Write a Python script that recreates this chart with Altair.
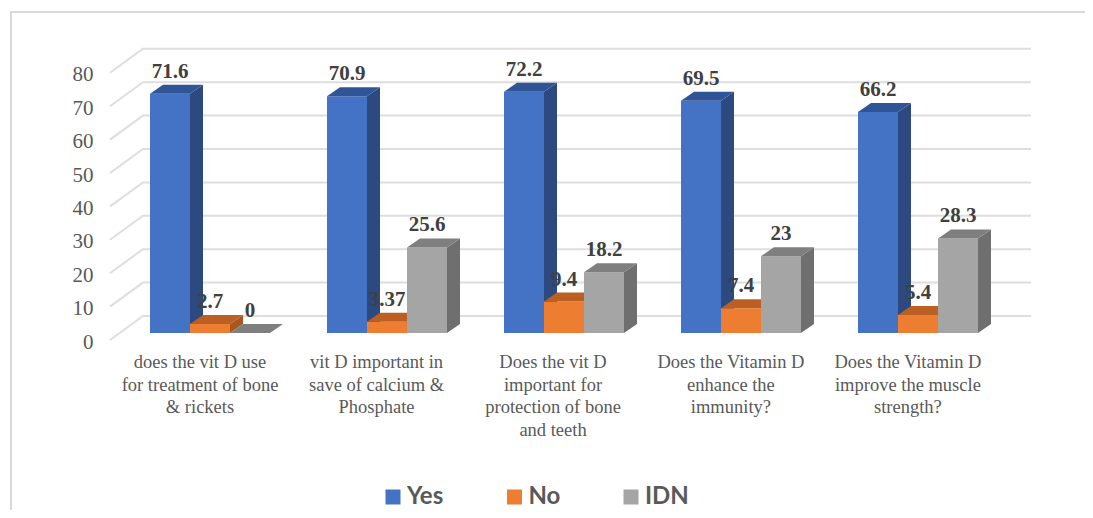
import altair as alt
import pandas as pd

question_labels = [
    "does the vit D use\nfor treatment of bone\n& rickets",
    "vit D important in\nsave of calcium &\nPhosphate",
    "Does the vit D\nimportant for\nprotection of bone\nand teeth",
    "Does the Vitamin D\nenhance the\nimmunity?",
    "Does the Vitamin D\nimprove the muscle\nstrength?",
]
question_label_pos = [0.2825, 1.28, 2.277, 3.282, 4.282]
series_names = ["Yes", "No", "IDN"]
yes_values = [71.6, 70.9, 72.2, 69.5, 66.2]
no_values = [2.7, 3.37, 9.4, 7.4, 5.4]
idn_values = [0, 25.6, 18.2, 23, 28.3]
front_colors = ["#4472C4", "#ED7D31", "#A5A5A5"]
side_colors = ["#2C4A80", "#A9571F", "#6F6F6F"]
top_colors = ["#2F5597", "#BC5F22", "#7F7F7F"]
y_ticks = [0, 10, 20, 30, 40, 50, 60, 70, 80]

# Layout constants, in scale units (1 x unit = one category, 1 y unit = one percent)
W, H = 1077, 502
PX_X, PX_Y = 177.0, 3.34
X0_PX, Y0_PX = 142.0, 332.0
BAR_W = 40 / PX_X
DX, DY = 13 / PX_X, 9 / PX_Y
BASE = 7 / PX_Y
WALL_X_FRONT = -40 / PX_X
WALL_X_BACK = -7 / PX_X
WALL_X_END = 881 / PX_X
WALL_DY = 24 / PX_Y

x_scale = alt.Scale(domain=[-X0_PX / PX_X, (W - X0_PX) / PX_X], range=[0, W], nice=False, zero=False)
y_scale = alt.Scale(domain=[(Y0_PX - H) / PX_Y, Y0_PX / PX_Y], range=[H, 0], nice=False, zero=False)
y_axis = alt.Axis(
    values=y_ticks, domain=False, ticks=False, grid=False, offset=-85, labelPadding=0, labelOffset=2,
    labelFont="Liberation Serif", labelFontSize=21, labelColor="#595959", labelOverlap=False,
)


def X(f):
    return alt.X(f"{f}:Q", scale=x_scale, axis=None, title=None)


def Y(f):
    return alt.Y(f"{f}:Q", scale=y_scale, axis=y_axis, title=None)


# gridlines: one polyline per tick, up the side wall and along the back wall
grid_rows = []
for t in y_ticks:
    grid_rows += [
        {"tick": t, "o": 0, "x": WALL_X_FRONT, "y": t},
        {"tick": t, "o": 1, "x": WALL_X_BACK, "y": t + WALL_DY},
        {"tick": t, "o": 2, "x": WALL_X_END, "y": t + WALL_DY},
    ]
grid = alt.Chart(pd.DataFrame(grid_rows)).mark_line(color="#DEDEDE", strokeWidth=2).encode(
    x=X("x"), y=Y("y"), detail="tick:N", order="o:Q",
)

frame_top = alt.Chart(pd.DataFrame({"a": [0]})).mark_rule(color="#D9D9D9", strokeWidth=2).encode(
    x=alt.value(2), x2=alt.value(W), y=alt.value(4)
)
frame_left = alt.Chart(pd.DataFrame({"a": [0]})).mark_rule(color="#D9D9D9", strokeWidth=2).encode(
    x=alt.value(3), y=alt.value(4), y2=alt.value(H)
)

layers = [frame_top, frame_left, grid]
label_rows = []
for s, (name, vals) in enumerate(zip(series_names, [yes_values, no_values, idn_values])):
    front, side, top = [], [], []
    for i, v in enumerate(vals):
        xl = i + s * BAR_W
        xr = xl + BAR_W
        front.append({"series": name, "x": xl, "x2": xr, "y": BASE, "y2": BASE + v})
        side += [
            {"b": i, "x": xr, "y": BASE, "y2": BASE + v},
            {"b": i, "x": xr + DX, "y": BASE + DY, "y2": BASE + v + DY},
        ]
        top += [
            {"b": i, "y": BASE + v, "x": xl, "x2": xr},
            {"b": i, "y": BASE + v + DY, "x": xl + DX, "x2": xr + DX},
        ]
        label_rows.append({"x": xl + BAR_W / 2, "y": BASE + v, "t": f"{v:g}"})
    layers.append(
        alt.Chart(pd.DataFrame(front)).mark_rect().encode(
            x=X("x"), x2="x2:Q", y=Y("y"), y2="y2:Q",
            color=alt.Color(
                "series:N",
                scale=alt.Scale(domain=series_names, range=front_colors),
                legend=alt.Legend(
                    title=None, orient="none", legendX=373, legendY=477, direction="horizontal",
                    symbolType="square", symbolSize=225, symbolStrokeWidth=0, symbolOpacity=1,
                    labelFont="Lato", labelFontSize=24, labelFontWeight="bold", labelColor="#595959",
                    columnPadding=58.5, labelOffset=2,
                ),
            ),
        )
    )
    layers.append(
        alt.Chart(pd.DataFrame(side)).mark_area(color=side_colors[s], opacity=1).encode(
            x=X("x"), y=Y("y"), y2="y2:Q", detail="b:N"
        )
    )
    layers.append(
        alt.Chart(pd.DataFrame(top)).mark_area(color=top_colors[s], orient="horizontal", opacity=1).encode(
            y=Y("y"), x=X("x"), x2="x2:Q", detail="b:N"
        )
    )

value_labels = alt.Chart(pd.DataFrame(label_rows)).mark_text(
    font="Liberation Serif", fontSize=21, fontWeight="bold", color="#404040", dy=-22, baseline="middle"
).encode(x=X("x"), y=Y("y"), text="t:N")

cat_df = pd.DataFrame({"x": question_label_pos, "t": question_labels})
cat_labels = alt.Chart(cat_df).mark_text(
    font="Liberation Serif", fontSize=18.5, color="#595959", lineBreak="\n", lineHeight=22.5,
    baseline="top", align="center",
).encode(x=X("x"), y=alt.value(345), text="t:N")

chart = alt.layer(*layers, value_labels, cat_labels).properties(
    width=W, height=H, padding=0, autosize=alt.AutoSizeParams(type="none"), background="white"
).configure_view(strokeWidth=0)

chart.save("out.html", embed_options={"renderer": "svg", "actions": False})
